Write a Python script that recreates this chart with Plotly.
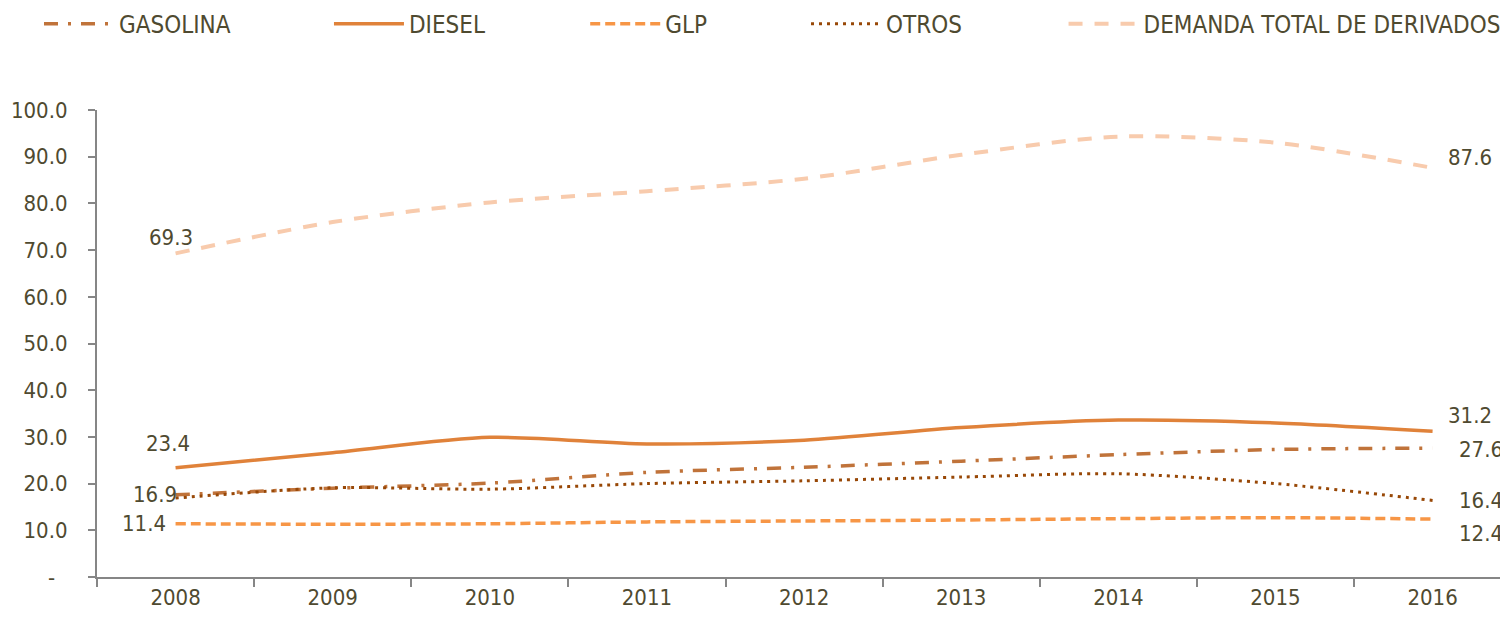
import plotly.graph_objects as go

years = ["2008", "2009", "2010", "2011", "2012", "2013", "2014", "2015", "2016"]
gasolina = [17.6, 19.0, 20.1, 22.4, 23.5, 24.8, 26.2, 27.3, 27.6]
diesel = [23.4, 26.6, 29.9, 28.5, 29.3, 32.0, 33.6, 33.0, 31.2]
glp = [11.4, 11.3, 11.4, 11.8, 12.0, 12.2, 12.5, 12.7, 12.4]
otros = [16.9, 19.1, 18.8, 20.0, 20.6, 21.4, 22.1, 20.0, 16.4]
demanda = [69.3, 76.0, 80.2, 82.6, 85.3, 90.4, 94.3, 93.0, 87.6]

series_names = ["GASOLINA", "DIESEL", "GLP", "OTROS", "DEMANDA TOTAL DE DERIVADOS"]
series_values = [gasolina, diesel, glp, otros, demanda]

y_tickvals = [0, 10, 20, 30, 40, 50, 60, 70, 80, 90, 100]
y_ticktext = ["-\u00a0\u00a0", "10.0", "20.0", "30.0", "40.0", "50.0",
              "60.0", "70.0", "80.0", "90.0", "100.0"]

FONT = "Liberation Sans Narrow, Arial Narrow, DejaVu Sans Condensed, sans-serif"
TXT = "#4F4A30"

styles = [
    dict(color="#C0733A", width=3.5, dash="14px,10px,3px,10px"),
    dict(color="#E0823A", width=3.5, dash="solid"),
    dict(color="#F79646", width=3.5, dash="10px,5px"),
    dict(color="#984807", width=3, dash="3px,5px"),
    dict(color="#F8CBAD", width=4, dash="14px,12px"),
]
legend_x = [-0.0411, 0.1644, 0.3460, 0.5025, 0.6850]

fig = go.Figure()
for i, (name, vals, st) in enumerate(zip(series_names, series_values, styles)):
    lg = "legend" if i == 0 else f"legend{i+1}"
    fig.add_trace(go.Scatter(
        x=years, y=vals, name=name, mode="lines",
        line=dict(color=st["color"], width=st["width"], dash=st["dash"],
                  shape="spline", smoothing=0.8),
        legend=lg, hoverinfo="x+y+name",
    ))

# data labels: (series index, point index, xanchor, xshift, yshift)
label_specs = [
    (4, 0, "center", -5, 16),
    (1, 0, "center", -8, 24),
    (3, 0, "right", 3, 4),
    (2, 0, "right", -8, 0),
    (4, 8, "left", 13, 10),
    (1, 8, "left", 13, 16),
    (0, 8, "left", 24, -1),
    (3, 8, "left", 24, 0),
    (2, 8, "left", 24, -14),
]
for si, pi, xa, xs, ys in label_specs:
    fig.add_annotation(
        x=pi, y=series_values[si][pi], xref="x", yref="y",
        text=f"{series_values[si][pi]:.1f}", showarrow=False,
        xanchor=xa, yanchor="middle", xshift=xs, yshift=ys,
        font=dict(family=FONT, size=22, color=TXT),
    )

layout_legends = {}
for i, lx in enumerate(legend_x):
    key = "legend" if i == 0 else f"legend{i+1}"
    layout_legends[key] = dict(
        x=lx, y=1.184, xanchor="left", yanchor="middle",
        orientation="h", bgcolor="rgba(0,0,0,0)", borderwidth=0,
        itemwidth=70, font=dict(family=FONT, size=24, color=TXT),
        itemclick=False, itemdoubleclick=False,
    )

fig.update_layout(
    width=1500, height=614,
    margin=dict(l=89, r=0, t=102, b=45, autoexpand=False),
    plot_bgcolor="white", paper_bgcolor="white",
    font=dict(family=FONT, size=22, color=TXT),
    showlegend=True,
    **layout_legends,
    xaxis=dict(
        type="category", range=[-0.5, 8.48],
        showline=True, linecolor="#868686", linewidth=2,
        ticks="outside", tickson="boundaries", ticklen=8,
        tickcolor="#868686", tickwidth=2,
        showgrid=False, zeroline=False,
        tickfont=dict(family=FONT, size=22, color=TXT),
    ),
    yaxis=dict(
        range=[0, 100], tickvals=y_tickvals, ticktext=y_ticktext,
        showline=True, linecolor="#868686", linewidth=2,
        ticks="outside", ticklen=7, tickcolor="#868686", tickwidth=2,
        showgrid=False, zeroline=False, ticklabelstandoff=16,
        tickfont=dict(family=FONT, size=22, color=TXT),
    ),
)

fig.write_html("out.html")
